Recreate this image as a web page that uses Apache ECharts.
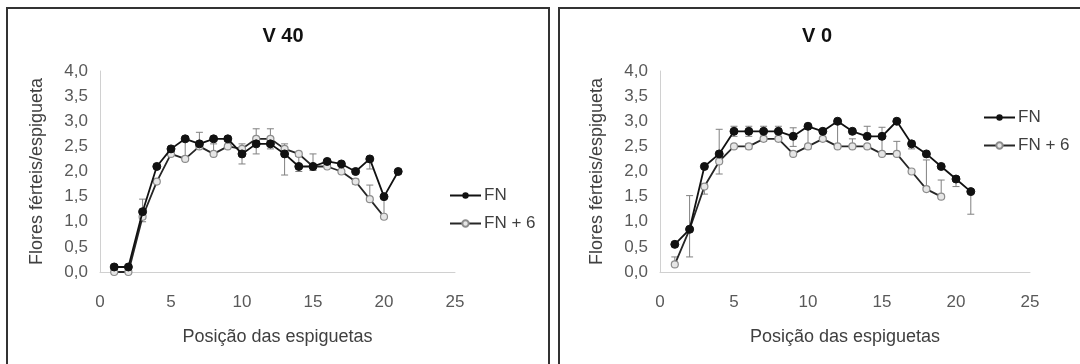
<!DOCTYPE html>
<html><head><meta charset="utf-8">
<script src="https://cdn.jsdelivr.net/npm/echarts@6/dist/echarts.min.js"></script>
<style>html,body{margin:0;padding:0;background:#fff;}#c{width:1080px;height:364px;}</style>
</head><body><div id="c"></div>
<script>
const positions = [1,2,3,4,5,6,7,8,9,10,11,12,13,14,15,16,17,18,19,20,21];
const v40FN  = [0.1,0.1,1.2,2.1,2.45,2.65,2.55,2.65,2.65,2.35,2.55,2.55,2.35,2.1,2.1,2.2,2.15,2.0,2.25,1.5,2.0];
const v40FN6 = [0.0,0.0,1.1,1.8,2.35,2.25,2.5,2.35,2.5,2.45,2.65,2.65,2.45,2.35,2.1,2.1,2.0,1.8,1.45,1.1];
const v0FN   = [0.55,0.85,2.1,2.35,2.8,2.8,2.8,2.8,2.7,2.9,2.8,3.0,2.8,2.7,2.7,3.0,2.55,2.35,2.1,1.85,1.6];
const v0FN6  = [0.15,0.85,1.7,2.2,2.5,2.5,2.65,2.65,2.35,2.5,2.65,2.5,2.5,2.5,2.35,2.35,2.0,1.65,1.5];
// error bars: [position, low, high]
const v40Err = [[3,1.0,1.45],[6,2.3,2.65],[7,2.5,2.78],[8,2.35,2.55],[9,2.5,2.65],[10,2.15,2.55],[11,2.35,2.85],[12,2.45,2.85],[13,1.93,2.55],[14,2.0,2.3],[15,2.02,2.35],[18,1.75,1.85],[19,2.05,2.25],[19,1.43,1.73],[20,1.1,1.47]];
const v0Err = [[1,0.15,0.3],[2,0.3,1.52],[3,1.55,1.75],[4,1.95,2.84],[5,2.7,2.9],[6,2.7,2.9],[6,2.45,2.55],[7,2.7,2.9],[7,2.6,2.7],[8,2.7,2.9],[9,2.5,2.87],[10,2.45,2.9],[12,2.5,3.0],[13,2.5,2.65],[14,2.7,2.9],[15,2.35,2.88],[16,2.35,2.6],[17,2.45,2.6],[18,1.69,2.23],[19,1.5,1.83],[20,1.7,1.9],[21,1.15,1.63]];
const titles = ['V 40','V 0'];
const xName = 'Posição das espiguetas';
const yName = 'Flores férteis/espigueta';
const seriesNames = ['FN','FN + 6'];

const font = 'Liberation Sans, Arial, sans-serif';
const pair = (xs, ys) => ys.map((v,i)=>[xs[i], v]);
function errSeries(data, idx){
  return {type:'custom', xAxisIndex:idx, yAxisIndex:idx, silent:true, z:1, data:data,
    renderItem:function(params, api){
      const x = api.value(0), lo = api.value(1), hi = api.value(2);
      const p1 = api.coord([x, lo]), p2 = api.coord([x, hi]);
      const w = 3.5;
      const st = {stroke:'#808080', lineWidth:1};
      return {type:'group', children:[
        {type:'line', shape:{x1:p1[0],y1:p1[1],x2:p2[0],y2:p2[1]}, style:st},
        {type:'line', shape:{x1:p1[0]-w,y1:p1[1],x2:p1[0]+w,y2:p1[1]}, style:st},
        {type:'line', shape:{x1:p2[0]-w,y1:p2[1],x2:p2[0]+w,y2:p2[1]}, style:st}
      ]};
    }};
}
function fnSeries(data, idx){
  return {name:seriesNames[0], type:'line', xAxisIndex:idx, yAxisIndex:idx, data:data,
    symbol:'circle', symbolSize:8, z:3,
    lineStyle:{color:'#111', width:1.8}, itemStyle:{color:'#111', borderColor:'#111'}};
}
function fn6Series(data, idx){
  return {name:seriesNames[1], type:'line', xAxisIndex:idx, yAxisIndex:idx, data:data,
    symbol:'circle', symbolSize:7, z:2,
    lineStyle:{color:'#262626', width:1.8}, itemStyle:{color:'#e6e6e6', borderColor:'#8c8c8c', borderWidth:1.2}};
}
const grids = [{left:100, top:71, width:355, height:201},{left:660, top:71, width:370, height:201}];
const xAxes = grids.map((g,i)=>({type:'value', gridIndex:i, min:0, max:25, interval:5,
  name:xName, nameLocation:'middle', nameGap:56, nameTextStyle:{color:'#404040', fontSize:18, fontFamily:font},
  axisLine:{show:true, lineStyle:{color:'#d0d0d0', width:1}}, axisTick:{show:false}, splitLine:{show:false},
  axisLabel:{color:'#595959', fontSize:17, fontFamily:font, margin:22}}));
const yAxes = grids.map((g,i)=>({type:'value', gridIndex:i, min:0, max:4, interval:0.5,
  name:yName, nameLocation:'middle', nameGap:54, nameTextStyle:{color:'#404040', fontSize:18, fontFamily:font},
  axisLine:{show:true, lineStyle:{color:'#d0d0d0', width:1}}, axisTick:{show:false}, splitLine:{show:false},
  axisLabel:{color:'#595959', fontSize:17, fontFamily:font, margin:12, formatter:v=>v.toFixed(1).replace('.',',')}}));
const legendBase = {data:seriesNames, orient:'vertical', itemGap:11, itemWidth:31, itemHeight:8, selectedMode:false,
  textStyle:{color:'#404040', fontSize:17, fontFamily:font, padding:[0,0,0,-2]}};
const option = {
  animation:false,
  backgroundColor:'#fff',
  title:[
    {text:titles[0], left:278, top:21, textAlign:'center', textStyle:{fontSize:20, fontWeight:'bold', color:'#111', fontFamily:font}},
    {text:titles[1], left:812, top:21, textAlign:'center', textStyle:{fontSize:20, fontWeight:'bold', color:'#111', fontFamily:font}}
  ],
  legend:[
    Object.assign({}, legendBase, {left:444, top:182}),
    Object.assign({}, legendBase, {left:978, top:104})
  ],
  grid:grids, xAxis:xAxes, yAxis:yAxes,
  graphic:[
    {type:'rect', shape:{x:7, y:8, width:542, height:370}, style:{fill:'none', stroke:'#333', lineWidth:2}, silent:true},
    {type:'rect', shape:{x:559, y:8, width:540, height:370}, style:{fill:'none', stroke:'#333', lineWidth:2}, silent:true}
  ],
  series:[
    errSeries(v40Err,0), fn6Series(pair(positions,v40FN6),0), fnSeries(pair(positions,v40FN),0),
    errSeries(v0Err,1), fn6Series(pair(positions,v0FN6),1), fnSeries(pair(positions,v0FN),1)
  ]
};
const chart = echarts.init(document.getElementById('c'), null, {renderer:'canvas'});
chart.setOption(option);
</script></body></html>
